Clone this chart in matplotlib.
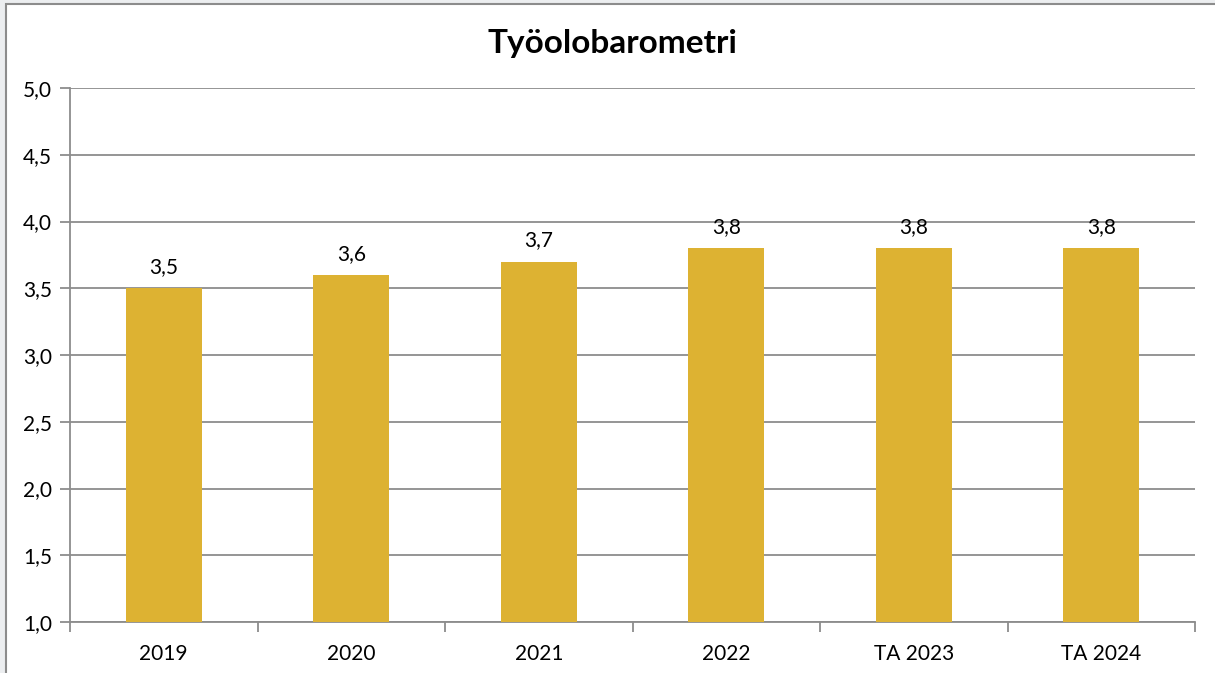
import matplotlib.pyplot as plt
from matplotlib.patches import Rectangle
from matplotlib.ticker import FixedLocator

# data
categories = ["2019", "2020", "2021", "2022", "TA 2023", "TA 2024"]
values = [3.5, 3.6, 3.7, 3.8, 3.8, 3.8]
y_ticks = [1.0, 1.5, 2.0, 2.5, 3.0, 3.5, 4.0, 4.5, 5.0]

plt.rcParams["font.family"] = ["Lato", "DejaVu Sans"]

W, H = 1215, 673
fig = plt.figure(figsize=(W / 100, H / 100), dpi=100)
fig.patch.set_facecolor("#eceef0")

# chart area frame (right and bottom edges run off the picture)
fig.add_artist(Rectangle((6 / W, -0.2), 1.2, 1.2 - 4 / H, transform=fig.transFigure,
                         facecolor="white", edgecolor="#8c8c8c", linewidth=1.5, zorder=0))

ax = fig.add_axes([70 / W, 1 - 622 / H, (1195 - 70) / W, (622 - 88) / H])
ax.set_facecolor("white")

x = range(len(categories))
ax.bar(x, values, width=0.405, color="#DDB232", zorder=3)

for xi, v in zip(x, values):
    ax.annotate(f"{v:.1f}".replace(".", ","), (xi, v), xytext=(0, 8),
                textcoords="offset points", ha="center", va="bottom", fontsize=15)

ax.set_xlim(-0.5, len(categories) - 0.5)
ax.set_ylim(1.0, 5.0)
ax.set_yticks(y_ticks)
ax.set_yticklabels([f"{t:.1f}".replace(".", ",") for t in y_ticks], fontsize=15)
ax.yaxis.grid(True, color="#8c8c8c", linewidth=1.3, zorder=1)
ax.set_axisbelow(True)

ax.set_xticks(list(x))
ax.set_xticklabels(categories, fontsize=15)
ax.xaxis.set_minor_locator(FixedLocator([i + 0.5 for i in range(-1, len(categories))]))
ax.tick_params(axis="x", which="major", length=0, pad=16)
ax.tick_params(axis="x", which="minor", length=7, width=1.3, color="#8c8c8c")
ax.tick_params(axis="y", length=7, width=1.3, color="#8c8c8c", pad=6)

for side in ["top", "right"]:
    ax.spines[side].set_visible(False)
for side in ["left", "bottom"]:
    ax.spines[side].set_color("#8c8c8c")
    ax.spines[side].set_linewidth(1.3)

fig.text(612 / W, 1 - 43 / H, "Työolobarometri", ha="center", va="center",
         fontsize=24, fontweight="bold")

fig.savefig("out.png", dpi=100)
